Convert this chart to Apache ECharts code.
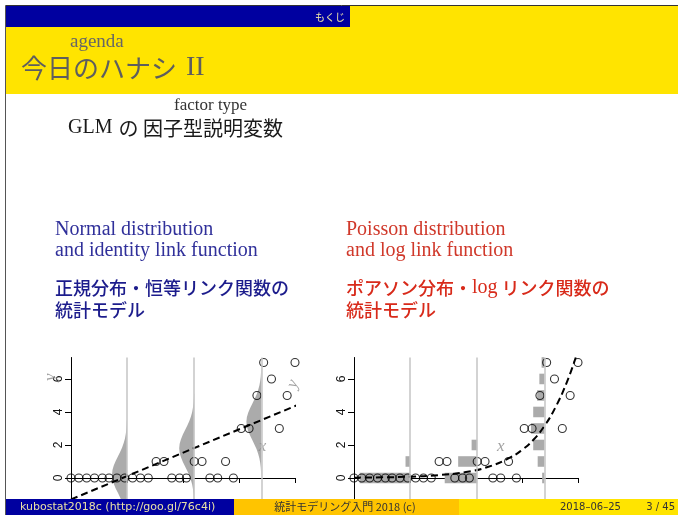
<!DOCTYPE html>
<html>
<head>
<meta charset="utf-8">
<script src="https://cdn.jsdelivr.net/npm/echarts@6/dist/echarts.min.js"></script>
<style>
  html, body { margin: 0; padding: 0; background: #fff; }
  #main { width: 678px; height: 515px; }
</style>
</head>
<body>
<div id="main"></div>
<script>
// observed data (same points in both panels)
const xs = [0, 0.07, 0.14, 0.21, 0.28, 0.34, 0.41, 0.48, 0.55, 0.62,
            0.69, 0.76, 0.83, 0.9, 0.97, 1.03, 1.1, 1.17, 1.24, 1.31,
            1.38, 1.45, 1.52, 1.59, 1.66, 1.72, 1.79, 1.86, 1.93, 2.0];
const ys = [0, 0, 0, 0, 0, 0, 0, 0, 0, 0,
            0, 1, 1, 0, 0, 0, 1, 1, 0, 0,
            1, 0, 3, 3, 5, 7, 6, 3, 5, 7];

// positions where the distributions are shown
const groupX = [0.5, 1.1, 1.7];

// normal model (left)
const normalLine = [[0, -1.3], [2.05, 4.5]];
const normalMean = [0.2, 1.8, 3.4];
const bellWidth = 0.134;
// [dy, relative width] of the bell shape
const bellProfile = [
  [-3.3, 0.01], [-3.03, 0.023], [-2.75, 0.044], [-2.48, 0.08], [-2.2, 0.135],
  [-1.93, 0.216], [-1.65, 0.325], [-1.38, 0.458], [-1.1, 0.607], [-0.83, 0.755],
  [-0.55, 0.882], [-0.28, 0.969], [0, 1], [0.28, 0.969], [0.55, 0.882],
  [0.83, 0.755], [1.1, 0.607], [1.38, 0.458], [1.65, 0.325], [1.93, 0.216],
  [2.2, 0.135], [2.48, 0.08], [2.75, 0.044], [3.03, 0.023], [3.3, 0.01]
];

// poisson model (right): [groupX, y, bar width]
const poissonBars = [
  [0.5, 0, 0.45], [0.5, 1, 0.04],
  [1.1, 0, 0.29], [1.1, 1, 0.17], [1.1, 2, 0.05],
  [1.7, 0, 0.02], [1.7, 1, 0.06], [1.7, 2, 0.10], [1.7, 3, 0.12],
  [1.7, 4, 0.10], [1.7, 5, 0.065], [1.7, 6, 0.045], [1.7, 7, 0.025]
];
const poissonCurve = [
  [0, 0.02], [0.25, 0.04], [0.5, 0.08], [0.75, 0.17], [1.0, 0.36],
  [1.2, 0.68], [1.4, 1.26], [1.5, 1.7], [1.6, 2.3], [1.7, 3.15],
  [1.8, 4.3], [1.9, 5.8], [1.98, 7.3]
];

const xTicks = [0.5, 1, 1.5, 2];
const yTicks = [0, 2, 4, 6];

const leftNotes = [
  { name: 'x', value: [1.71, 1.9] },
  { name: 'y', value: [1.98, 5.7], label: { rotate: 70 } },
  { name: 'y', value: [-0.18, 6.1], label: { rotate: 90 } }
];
const rightNotes = [{ name: 'x', value: [1.31, 1.9] }];

const serif = 'Liberation Serif';
const jp = 'Noto Sans CJK JP';
const sans = 'Liberation Sans';
const gray = '#ababab';

function makeXAxis(i) {
  return {
    type: 'value', gridIndex: i, min: 0, max: 2, interval: 0.5,
    axisLine: { onZero: true, lineStyle: { color: '#000', width: 1 } },
    axisTick: { customValues: xTicks, length: 5, lineStyle: { color: '#000' } },
    axisLabel: { customValues: xTicks, margin: 4, color: '#111', fontFamily: sans, fontSize: 12,
                 formatter: v => v.toFixed(1) },
    splitLine: { show: false }
  };
}
function makeYAxis(i) {
  return {
    type: 'value', gridIndex: i, min: -2, max: 7.3,
    axisLine: { onZero: false, lineStyle: { color: '#000', width: 1 } },
    axisTick: { customValues: yTicks, length: 6, lineStyle: { color: '#000' } },
    axisLabel: { customValues: yTicks, rotate: 90, margin: 6, color: '#111', fontFamily: sans, fontSize: 12 },
    splitLine: { show: false }
  };
}

const vLines = {
  silent: true, symbol: 'none', label: { show: false },
  lineStyle: { color: '#c4c4c4', width: 1.5, type: 'solid' },
  data: groupX.map(v => ({ xAxis: v }))
};

const noteLabel = {
  show: true, position: 'inside', formatter: '{b}',
  fontFamily: serif, fontStyle: 'italic', fontSize: 17, color: '#8a8a8a'
};

const mid = { textVerticalAlign: 'middle', verticalAlign: 'middle' };

const chart = echarts.init(document.getElementById('main'));
chart.setOption({
  backgroundColor: '#fff',
  animation: false,
  grid: [
    { left: 71, top: 357.5, width: 224, height: 153.5, outerBoundsMode: 'none' },
    { left: 354, top: 357.5, width: 224, height: 153.5, outerBoundsMode: 'none' }
  ],
  xAxis: [makeXAxis(0), makeXAxis(1)],
  yAxis: [makeYAxis(0), makeYAxis(1)],
  series: [
    {
      type: 'custom', xAxisIndex: 0, yAxisIndex: 0,
      data: groupX.map((g, i) => [g, normalMean[i]]),
      encode: { x: 0, y: 1 },
      markLine: vLines,
      renderItem: (params, api) => {
        const gx = api.value(0), mu = api.value(1);
        const first = bellProfile[0][0], last = bellProfile[bellProfile.length - 1][0];
        const pts = [api.coord([gx, mu + first])];
        bellProfile.forEach(p => pts.push(api.coord([gx - bellWidth * p[1], mu + p[0]])));
        pts.push(api.coord([gx, mu + last]));
        return { type: 'polygon', shape: { points: pts }, style: { fill: gray } };
      }
    },
    {
      type: 'custom', xAxisIndex: 1, yAxisIndex: 1,
      data: poissonBars,
      encode: { x: 0, y: 1 },
      markLine: vLines,
      renderItem: (params, api) => {
        const gx = api.value(0), y = api.value(1), w = api.value(2);
        const p0 = api.coord([gx - w, y + 0.32]);
        const p1 = api.coord([gx, y - 0.32]);
        return { type: 'rect', shape: { x: p0[0], y: p0[1], width: p1[0] - p0[0], height: p1[1] - p0[1] },
                 style: { fill: gray } };
      }
    },
    {
      type: 'line', xAxisIndex: 0, yAxisIndex: 0, data: normalLine, clip: false,
      symbol: 'none', lineStyle: { color: '#000', width: 2, type: [7, 4] }
    },
    {
      type: 'line', xAxisIndex: 1, yAxisIndex: 1, data: poissonCurve, smooth: true,
      symbol: 'none', lineStyle: { color: '#000', width: 2, type: [7, 4] }
    },
    {
      type: 'scatter', xAxisIndex: 0, yAxisIndex: 0, symbolSize: 8,
      data: xs.map((x, i) => [x, ys[i]]),
      itemStyle: { color: 'rgba(0,0,0,0)', borderColor: '#000', borderWidth: 1.1 }
    },
    {
      type: 'scatter', xAxisIndex: 1, yAxisIndex: 1, symbolSize: 8,
      data: xs.map((x, i) => [x, ys[i]]),
      itemStyle: { color: 'rgba(0,0,0,0)', borderColor: '#000', borderWidth: 1.1 }
    },
    {
      type: 'scatter', xAxisIndex: 0, yAxisIndex: 0, symbolSize: 0, clip: false,
      data: leftNotes, label: noteLabel
    },
    {
      type: 'scatter', xAxisIndex: 1, yAxisIndex: 1, symbolSize: 0, clip: false,
      data: rightNotes, label: noteLabel
    }
  ],
  graphic: [
    // frame
    { type: 'line', z: 100, shape: { x1: 5.5, y1: 5.5, x2: 678, y2: 5.5 }, style: { stroke: '#333', lineWidth: 1 } },
    { type: 'line', z: 100, shape: { x1: 5.5, y1: 5.5, x2: 5.5, y2: 515 }, style: { stroke: '#555', lineWidth: 1 } },
    // header
    { type: 'rect', z: 90, shape: { x: 6, y: 6, width: 672, height: 88 }, style: { fill: '#ffe400' } },
    { type: 'rect', z: 91, shape: { x: 6, y: 6, width: 344, height: 21 }, style: { fill: '#0000a0' } },
    { type: 'text', z: 92, x: 330, y: 17, style: Object.assign({ text: 'もくじ', fill: '#efe6a8',
      font: '10px "Noto Sans CJK JP"', textAlign: 'center', align: 'center' }, mid) },
    { type: 'text', z: 92, x: 70, y: 42, style: Object.assign({ text: 'agenda', fill: '#666',
      font: '19px "Liberation Serif"' }, mid) },
    { type: 'text', z: 92, x: 21, y: 68, style: Object.assign({
      text: '{j|今日のハナシ}{s|II}', fill: '#5e5e5e',
      rich: { j: { fontFamily: jp, fontSize: 26, fill: '#5e5e5e', color: '#5e5e5e' },
              s: { fontFamily: serif, fontSize: 28, fill: '#5e5e5e', color: '#5e5e5e', padding: [0, 0, 0, 9] } } }, mid) },
    // body
    { type: 'text', x: 174, y: 106, style: Object.assign({ text: 'factor type', fill: '#333',
      font: '17px "Liberation Serif"' }, mid) },
    { type: 'text', x: 68, y: 128, style: Object.assign({
      text: '{s|GLM}{j|の 因子型説明変数}', fill: '#1a1a1a',
      rich: { s: { fontFamily: serif, fontSize: 20, fill: '#1a1a1a', color: '#1a1a1a', padding: [0, 6, 0, 0] },
              j: { fontFamily: jp, fontSize: 20, fill: '#1a1a1a', color: '#1a1a1a' } } }, mid) },
    { type: 'text', x: 55, y: 230, style: Object.assign({ text: 'Normal distribution', fill: '#30309a',
      font: '20px "Liberation Serif"' }, mid) },
    { type: 'text', x: 55, y: 251, style: Object.assign({ text: 'and identity link function', fill: '#30309a',
      font: '20px "Liberation Serif"' }, mid) },
    { type: 'text', x: 55, y: 288, style: Object.assign({ text: '正規分布・恒等リンク関数の', fill: '#1c1c8c',
      font: '500 18px "Noto Sans CJK JP"' }, mid) },
    { type: 'text', x: 55, y: 310, style: Object.assign({ text: '統計モデル', fill: '#1c1c8c',
      font: '500 18px "Noto Sans CJK JP"' }, mid) },
    { type: 'text', x: 346, y: 230, style: Object.assign({ text: 'Poisson distribution', fill: '#d0382a',
      font: '20px "Liberation Serif"' }, mid) },
    { type: 'text', x: 346, y: 251, style: Object.assign({ text: 'and log link function', fill: '#d0382a',
      font: '20px "Liberation Serif"' }, mid) },
    { type: 'text', x: 346, y: 288, style: Object.assign({
      text: '{j|ポアソン分布・}{s|log}{j| リンク関数の}', fill: '#d82a1a',
      rich: { j: { fontFamily: jp, fontSize: 18, fontWeight: 500, fill: '#d82a1a', color: '#d82a1a' },
              s: { fontFamily: serif, fontSize: 20, fill: '#d82a1a', color: '#d82a1a' } } }, mid) },
    { type: 'text', x: 346, y: 310, style: Object.assign({ text: '統計モデル', fill: '#d82a1a',
      font: '500 18px "Noto Sans CJK JP"' }, mid) },
    // footer
    { type: 'rect', z: 100, shape: { x: 6, y: 499, width: 228, height: 16 }, style: { fill: '#0000a0' } },
    { type: 'rect', z: 100, shape: { x: 234, y: 499, width: 225, height: 16 }, style: { fill: '#ffc400' } },
    { type: 'rect', z: 100, shape: { x: 459, y: 499, width: 219, height: 16 }, style: { fill: '#ffe400' } },
    { type: 'text', z: 101, x: 20, y: 507, style: Object.assign({ text: 'kubostat2018c (http://goo.gl/76c4i)',
      fill: '#e8e0a6', font: '11px "DejaVu Sans"' }, mid) },
    { type: 'text', z: 101, x: 345, y: 507, style: Object.assign({ text: '統計モデリング入門 2018 (c)', fill: '#333',
      font: '11px "Noto Sans CJK JP"', textAlign: 'center', align: 'center' }, mid) },
    { type: 'text', z: 101, x: 560, y: 507, style: Object.assign({ text: '2018–06–25', fill: '#333',
      font: '10px "DejaVu Sans"' }, mid) },
    { type: 'text', z: 101, x: 675, y: 507, style: Object.assign({ text: '3 / 45', fill: '#333',
      font: '10px "DejaVu Sans"', textAlign: 'right', align: 'right' }, mid) }
  ]
});
</script>
</body>
</html>
